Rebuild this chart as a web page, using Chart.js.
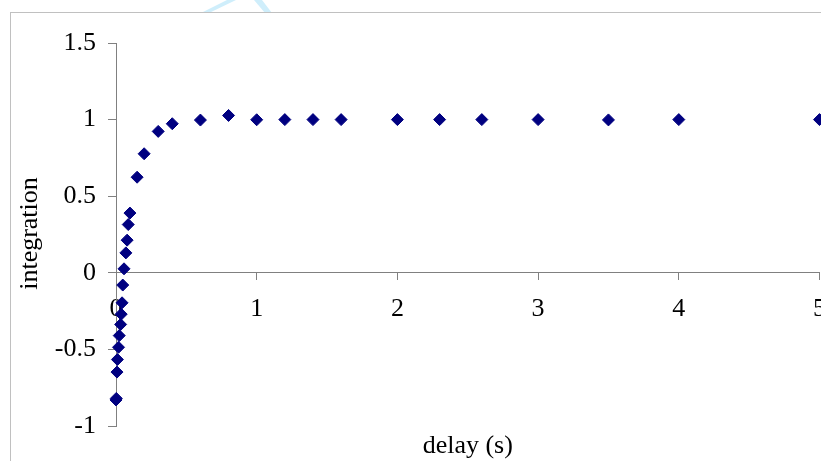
<!DOCTYPE html>
<html>
<head>
<meta charset="utf-8">
<script src="https://cdn.jsdelivr.net/npm/chart.js@4"></script>
<style>
  html, body { margin: 0; padding: 0; background: #ffffff; overflow: hidden; }
  #wrap { width: 840px; height: 461px; }
</style>
</head>
<body>
<div id="wrap"><canvas id="c" width="840" height="461"></canvas></div>
<script>
// ---- data ----
const delay = [0, 0.002, 0.007, 0.01, 0.018, 0.023, 0.033, 0.037, 0.043, 0.048, 0.057, 0.07, 0.079, 0.087, 0.099,
               0.15, 0.2, 0.3, 0.4, 0.6, 0.8, 1.0, 1.2, 1.4, 1.6, 2.0, 2.3, 2.6, 3.0, 3.5, 4.0, 5.0];
const integration = [-0.83, -0.82, -0.648, -0.566, -0.486, -0.41, -0.337, -0.27, -0.196, -0.08, 0.026, 0.13, 0.213, 0.315, 0.39,
                     0.624, 0.777, 0.923, 0.973, 0.997, 1.027, 0.999, 1.0, 1.0, 1.0, 1.0, 1.0, 1.0, 1.0, 0.998, 1.0, 1.0];
const xTickValues = [0, 1, 2, 3, 4, 5];
const yTickValues = [-1, -0.5, 0, 0.5, 1, 1.5];
const xTitle = 'delay (s)';
const yTitle = 'integration';

const points = delay.map((d, i) => ({ x: d, y: integration[i] }));

const AXIS = '#808080';
const SERIF = '"Liberation Serif", "Times New Roman", serif';

const decor = {
  id: 'decor',
  beforeDraw(chart) {
    const ctx = chart.ctx;
    ctx.save();
    // faint watermark above the frame
    ctx.beginPath();
    ctx.rect(0, 0, chart.width, 12);
    ctx.clip();
    ctx.fillStyle = '#cfeefb';
    ctx.beginPath();
    ctx.moveTo(201, 13); ctx.lineTo(209, 13); ctx.lineTo(236, 0); ctx.lineTo(227, 0); ctx.closePath();
    ctx.fill();
    ctx.beginPath();
    ctx.moveTo(254, 0); ctx.lineTo(262, 0); ctx.lineTo(272, 13); ctx.lineTo(265, 13); ctx.closePath();
    ctx.fill();
    ctx.restore();
    // frame
    ctx.save();
    ctx.strokeStyle = '#c0c0c0';
    ctx.lineWidth = 1;
    ctx.strokeRect(10.5, 12.5, 1000, 1000);
    ctx.restore();
  },
  afterDraw(chart) {
    const ctx = chart.ctx;
    const a = chart.chartArea;
    ctx.save();
    ctx.fillStyle = '#000000';
    ctx.font = '26px ' + SERIF;
    ctx.textAlign = 'center';
    ctx.textBaseline = 'alphabetic';
    ctx.fillText(xTitle, (a.left + a.right) / 2, 453);
    ctx.translate(37, (a.top + a.bottom) / 2 - 1);
    ctx.rotate(-Math.PI / 2);
    ctx.fillText(yTitle, 0, 0);
    ctx.restore();
  }
};

const fmt = v => String(v);

new Chart(document.getElementById('c'), {
  type: 'scatter',
  data: {
    datasets: [{
      data: points,
      pointStyle: 'rectRot',
      pointRadius: 6,
      pointHoverRadius: 6,
      backgroundColor: '#000080',
      borderColor: '#000080',
      borderWidth: 1,
      showLine: false,
      clip: false
    }]
  },
  options: {
    responsive: false,
    animation: false,
    devicePixelRatio: 1,
    layout: { padding: { left: 0, right: 18, top: 43, bottom: 35 } },
    plugins: { legend: { display: false }, tooltip: { enabled: false }, title: { display: false } },
    scales: {
      x: {
        type: 'linear',
        min: 0, max: 5,
        position: { y: 0 },
        afterBuildTicks(scale) { scale.ticks = xTickValues.map(v => ({ value: v })); },
        grid: { display: true, drawOnChartArea: false, drawTicks: true, tickLength: 7, color: AXIS, lineWidth: 1 },
        border: { display: true, color: AXIS, width: 1 },
        ticks: { color: '#000000', font: { family: SERIF, size: 26 }, padding: 14, maxRotation: 0, autoSkip: false, callback: fmt }
      },
      y: {
        type: 'linear',
        min: -1, max: 1.5,
        position: 'left',
        afterBuildTicks(scale) { scale.ticks = yTickValues.map(v => ({ value: v })); },
        afterFit(scale) { scale.width = 116; },
        grid: { display: true, drawOnChartArea: false, drawTicks: true, tickLength: 8, color: AXIS, lineWidth: 1 },
        border: { display: true, color: AXIS, width: 1 },
        ticks: { color: '#000000', font: { family: SERIF, size: 26 }, padding: 12, autoSkip: false, callback: fmt }
      }
    }
  },
  plugins: [decor]
});
</script>
</body>
</html>
